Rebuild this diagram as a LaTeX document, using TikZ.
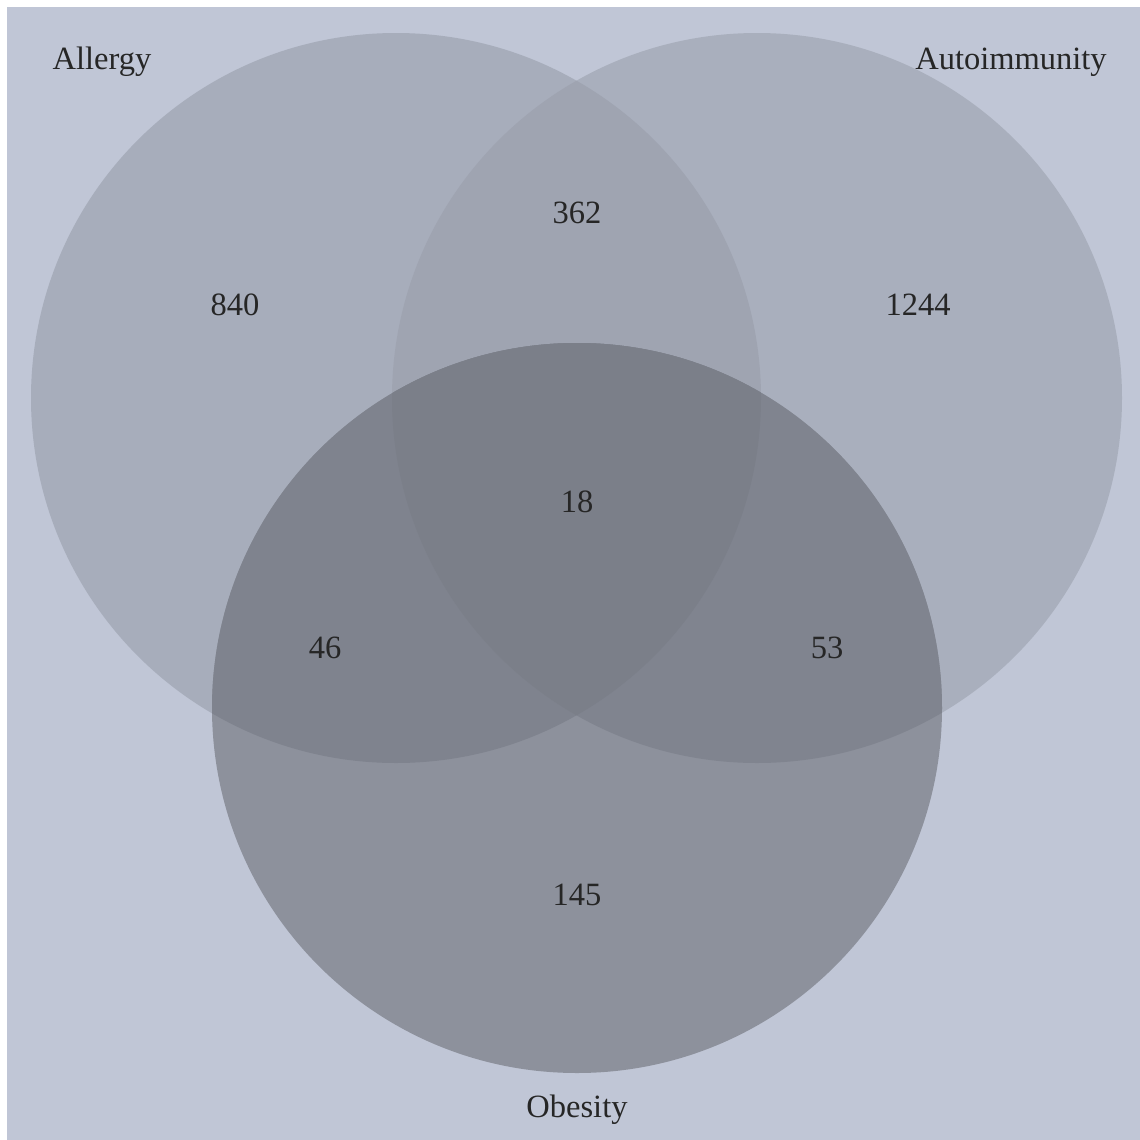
\documentclass[tikz,border=0pt]{standalone}
\usepackage{fontspec}
\setmainfont{Liberation Serif}
\definecolor{bgc}{HTML}{C0C6D6}
\definecolor{aonly}{HTML}{A7ADBB}
\definecolor{bonly}{HTML}{A9AFBD}
\definecolor{abc}{HTML}{9FA4B1}
\definecolor{conly}{HTML}{8D919C}
\definecolor{acc}{HTML}{7F838E}
\definecolor{bcc}{HTML}{80848F}
\definecolor{allc}{HTML}{7B7F89}
\begin{document}
\begin{tikzpicture}[x=0.02cm,y=-0.02cm,
  lbl/.style={font=\fontsize{18.5}{20}\selectfont, text=black!85, inner sep=0pt}]
\useasboundingbox (0,0) rectangle (1140,1140);
\fill[white] (0,0) rectangle (1140,1140);
\fill[bgc] (7,7) rectangle (1140,1140);
\def\R{365}
\coordinate (A) at (396,398);
\coordinate (B) at (757,398);
\coordinate (C) at (577,708);
\fill[aonly] (A) circle[radius=\R];
\fill[bonly] (B) circle[radius=\R];
\begin{scope}
  \clip (A) circle[radius=\R];
  \fill[abc] (B) circle[radius=\R];
\end{scope}
\fill[conly] (C) circle[radius=\R];
\begin{scope}
  \clip (C) circle[radius=\R];
  \fill[acc] (A) circle[radius=\R];
  \fill[bcc] (B) circle[radius=\R];
  \clip (A) circle[radius=\R];
  \fill[allc] (B) circle[radius=\R];
\end{scope}
\node[lbl] (lA) at (102,62) {Allergy};
\node[lbl] (lB) at (1011,62) {Autoimmunity};
\node[lbl] (lC) at (577,1110) {Obesity};
\node[lbl] (n840) at (235,305) {840};
\node[lbl] (n362) at (577,213) {362};
\node[lbl] (n1244) at (918,305) {1244};
\node[lbl] (n18) at (577,502) {18};
\node[lbl] (n46) at (325,648) {46};
\node[lbl] (n53) at (827,648) {53};
\node[lbl] (n145) at (577,895) {145};
\end{tikzpicture}
\end{document}
